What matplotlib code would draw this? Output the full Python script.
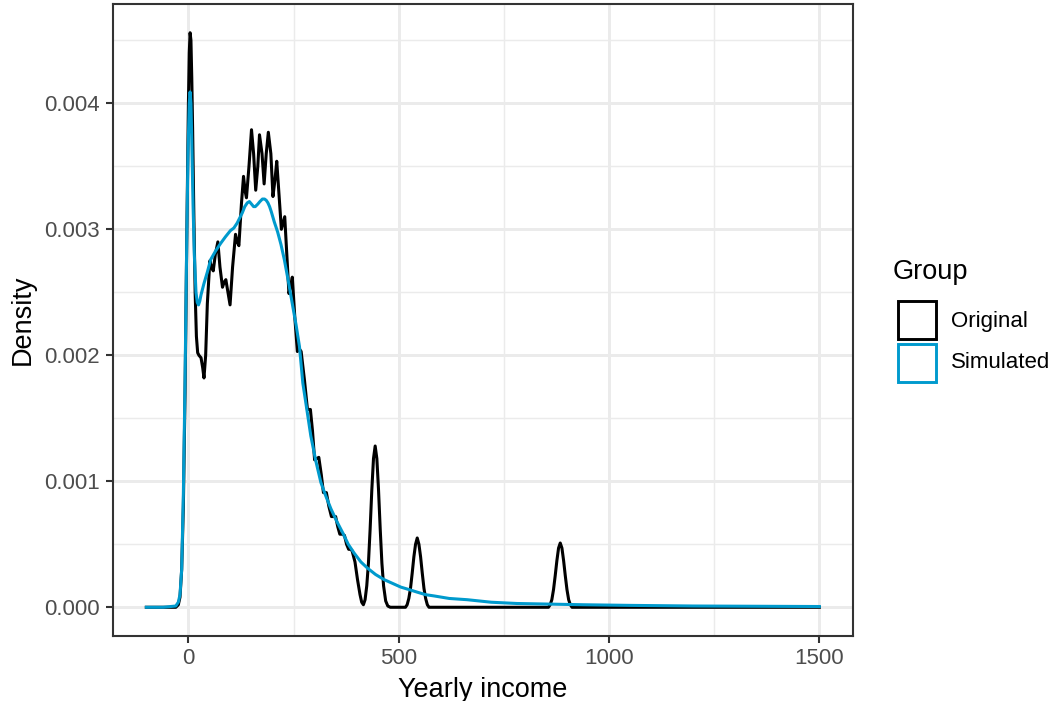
import numpy as np
import matplotlib
matplotlib.use("Agg")
import matplotlib.pyplot as plt
import matplotlib.patches as mpatches

# values: (yearly income, density)
orig_pts = [(-100, 0), (-60, 0), (-30, 0), (-24, 0.00002), (-20, 0.00008),
            (-16, 0.0003), (-12, 0.0008), (-8, 0.0017), (-4, 0.0029), (0, 0.0040),
            (2, 0.0044), (4, 0.00456), (6, 0.0045), (8, 0.0042), (10, 0.0038),
            (13, 0.0031), (16, 0.0025), (19, 0.00215), (22, 0.00202), (25, 0.002),
            (30, 0.00198), (34, 0.0019), (37, 0.00182), (41, 0.0020), (45, 0.00241),
            (51, 0.00275), (55, 0.0027), (59, 0.00267), (64, 0.0028), (70, 0.0029),
            (75, 0.0027), (81, 0.00254), (85, 0.00258), (89, 0.0026), (94, 0.0025),
            (99, 0.0024), (105, 0.0027), (112, 0.00296), (116, 0.0029),
            (120, 0.00287), (126, 0.0032), (131, 0.00342), (135, 0.0033),
            (138, 0.00325), (144, 0.0035), (150, 0.00379), (155, 0.0036),
            (160, 0.00331), (165, 0.0035), (169, 0.00375), (175, 0.0036),
            (180, 0.00336), (185, 0.0036), (190, 0.00377), (196, 0.0036),
            (201, 0.00326), (206, 0.0034), (210, 0.00354), (215, 0.0033),
            (221, 0.0030), (225, 0.00305), (229, 0.0031), (234, 0.0028),
            (239, 0.00249), (243, 0.00255), (247, 0.00262), (253, 0.0023),
            (259, 0.00203), (264, 0.00205), (268, 0.00203), (276, 0.0018),
            (283, 0.00157), (287, 0.00157), (290, 0.00157), (295, 0.0014),
            (300, 0.00117), (305, 0.00118), (310, 0.00119), (316, 0.00105),
            (321, 0.00091), (325, 0.00091), (328, 0.00091), (334, 0.0008),
            (340, 0.00072), (345, 0.00072), (350, 0.00072), (355, 0.00064),
            (360, 0.00058), (366, 0.00058), (371, 0.00057), (376, 0.0005),
            (381, 0.00046), (385, 0.00046), (389, 0.00045), (396, 0.00036),
            (402, 0.00022), (408, 0.0001), (412, 0.00004), (416, 0.00002),
            (420, 0.00006), (424, 0.00017), (428, 0.00035), (432, 0.00062),
            (436, 0.00093), (440, 0.00118), (444, 0.00128), (448, 0.00118),
            (452, 0.00093), (456, 0.00062), (460, 0.00035), (464, 0.00017),
            (469, 0.00005), (474, 0.00001), (480, 0), (516, 0), (520, 0.00002),
            (524, 0.00007), (528, 0.00015), (532, 0.00027), (536, 0.0004),
            (540, 0.0005), (544, 0.00055), (548, 0.0005), (552, 0.0004),
            (556, 0.00027), (560, 0.00015), (564, 0.00007), (568, 0.00002),
            (572, 0), (856, 0), (860, 0.00002), (864, 0.00006), (868, 0.00014),
            (872, 0.00025), (876, 0.00037), (880, 0.00047), (884, 0.00051),
            (888, 0.00047), (892, 0.00037), (896, 0.00025), (900, 0.00014),
            (904, 0.00006), (908, 0.00002), (912, 0), (1500, 0)]

sim_pts = [(-100, 0), (-60, 0), (-30, 0.00001), (-24, 0.00004), (-20, 0.0001),
           (-16, 0.0003), (-12, 0.0009), (-8, 0.0018), (-4, 0.0029), (-1, 0.0036),
           (2, 0.004), (4, 0.00409), (6, 0.004), (8, 0.0037), (11, 0.0032),
           (14, 0.0028), (18, 0.0025), (21, 0.00242), (24, 0.0024), (27, 0.00243),
           (30, 0.00248), (37, 0.00257), (45, 0.00266), (53, 0.00276),
           (65, 0.00283), (77, 0.00289), (88, 0.00294), (100, 0.00299),
           (108, 0.00301), (116, 0.00305), (122, 0.00309), (128, 0.00313),
           (134, 0.00318), (140, 0.00321), (145, 0.00322), (150, 0.0032),
           (155, 0.00318), (159, 0.00318), (165, 0.0032), (170, 0.00322),
           (176, 0.00324), (181, 0.00324), (185, 0.00323), (189, 0.00321),
           (193, 0.00318), (197, 0.00314), (204, 0.00306), (212, 0.00298),
           (220, 0.00288), (228, 0.00276), (238, 0.00258), (248, 0.00239),
           (256, 0.00224), (264, 0.00207), (272, 0.00178), (282, 0.00156),
           (291, 0.00136), (303, 0.00116), (315, 0.00099), (327, 0.00088),
           (339, 0.00078), (353, 0.00068), (367, 0.00059), (380, 0.0005),
           (394, 0.00043), (410, 0.00036), (426, 0.00031), (445, 0.00026),
           (465, 0.00022), (485, 0.00019), (505, 0.00016), (525, 0.00014),
           (544, 0.00012), (564, 0.0001), (584, 0.00009), (620, 0.00007),
           (663, 0.00006), (720, 0.00004), (781, 0.00003), (860, 0.000025),
           (939, 0.00002), (1050, 0.000015), (1200, 0.00001), (1350, 0.000008),
           (1500, 0.000006)]

groups = ["Original", "Simulated"]
colors = ["black", "#009ACD"]

orig_x, orig_y = zip(*orig_pts)
sim_x, sim_y = zip(*sim_pts)

W, H = 1057, 701
plt.rcParams['font.family'] = ['Liberation Sans', 'DejaVu Sans']

fig = plt.figure(figsize=(W / 100, H / 100), dpi=100)
ax = fig.add_axes([112.7 / W, (H - 636) / H, (853 - 112.7) / W, (636 - 4) / H])

ax.plot(orig_x, orig_y, color=colors[0], lw=2.2, solid_joinstyle="round", zorder=3)
ax.plot(sim_x, sim_y, color=colors[1], lw=2.2, solid_joinstyle="round", zorder=4)

ymax = max(orig_y)
ax.set_xlim(-180, 1580)
ax.set_ylim(-0.05 * ymax, 1.05 * ymax)

ax.set_xticks([0, 500, 1000, 1500])
ax.set_xticks([250, 750, 1250], minor=True)
ax.set_yticks([0, 0.001, 0.002, 0.003, 0.004])
ax.set_yticklabels(["0.000", "0.001", "0.002", "0.003", "0.004"])
ax.set_yticks([0.0005, 0.0015, 0.0025, 0.0035, 0.0045], minor=True)

ax.grid(which="major", color="#EBEBEB", lw=2.1, zorder=0)
ax.grid(which="minor", color="#EBEBEB", lw=1.05, zorder=0)
ax.set_axisbelow(True)

for s in ax.spines.values():
    s.set_color("#333333")
    s.set_linewidth(1.5)
ax.tick_params(which="major", length=5, width=1.5, color="#333333",
               labelsize=16, labelcolor="#4D4D4D")
ax.tick_params(axis="x", pad=3.5)
ax.tick_params(axis="y", pad=4)
ax.tick_params(which="minor", length=0)

ax.set_xlabel("Yearly income", fontsize=19.5, labelpad=6)
ax.set_ylabel("Density", fontsize=19.5, labelpad=6)


def fx(x, y):
    return x / W, 1 - y / H


# legend drawn by hand, ggplot style
fig.text(*fx(893, 272), "Group", fontsize=19.5, va="center", ha="left")
key_tops = [300.5, 344]
labels_y = [321, 362]
for g, c, top, ly in zip(groups, colors, key_tops, labels_y):
    x0, y0 = fx(897.5, top + 38)
    rect = mpatches.Rectangle((x0, y0), 38 / W, 38 / H, transform=fig.transFigure,
                              facecolor="white", edgecolor=c, lw=2.1)
    fig.patches.append(rect)
    fig.text(*fx(951, ly), g, fontsize=16, va="center", ha="left")

fig.savefig("out.png", dpi=100)
